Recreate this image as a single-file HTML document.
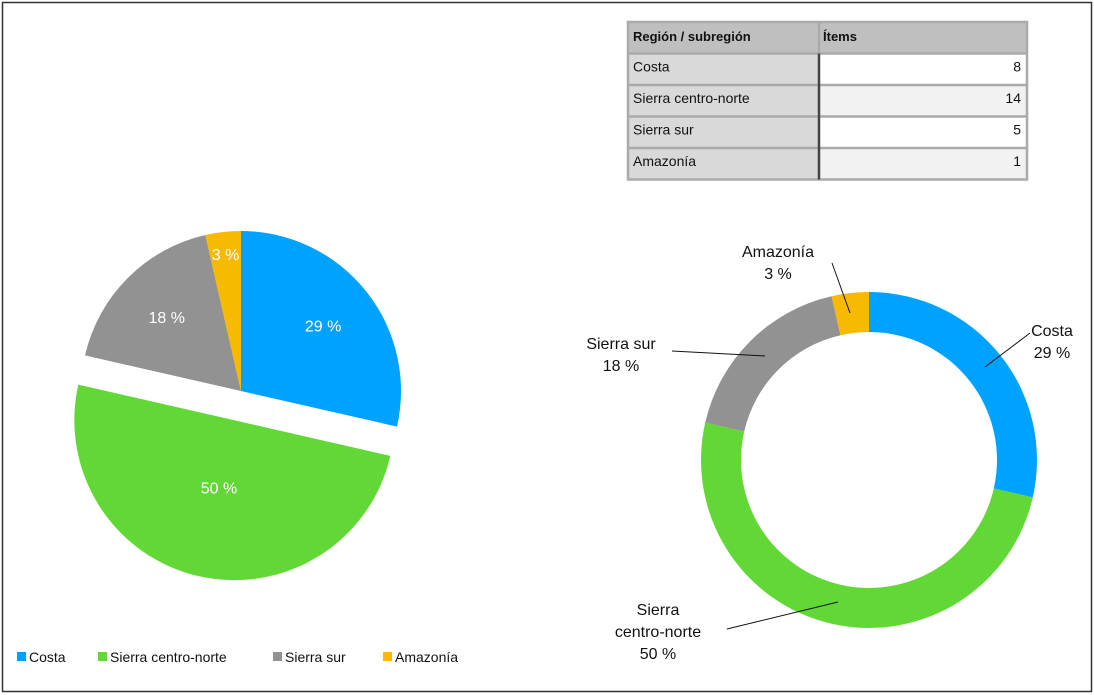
<!DOCTYPE html>
<html><head><meta charset="utf-8"><style>
body{margin:0;background:#fff;font-family:"Liberation Sans",sans-serif}
#wrap{position:relative;width:1094px;height:695px;overflow:hidden}
</style></head><body>
<div id="wrap">
<svg id="svg" width="1094" height="695" xmlns="http://www.w3.org/2000/svg">
<rect x="2.5" y="2.5" width="1089" height="689" fill="#fff" stroke="#333" stroke-width="1.5"/>
<g id="table"></g>
<g id="pie"></g>
<g id="donut"></g>
<g id="legend"></g>
</svg>
</div>
<script>
const categories=["Costa","Sierra centro-norte","Sierra sur","Amazonía"];
const values=[8,14,5,1];
const pctLabels=["29 %","50 %","18 %","3 %"];
const colors=["#00A2FF","#62D836","#929292","#F8BA00"];
const NS="http://www.w3.org/2000/svg";
function mk(tag,attrs,parent,text){const e=document.createElementNS(NS,tag);for(const k in attrs)e.setAttribute(k,attrs[k]);if(text!==undefined)e.textContent=text;parent.appendChild(e);return e;}
const total=values.reduce((a,b)=>a+b,0);
function pt(cx,cy,r,a){return [cx+r*Math.sin(a),cy-r*Math.cos(a)];}
function arcPath(cx,cy,r,ri,a0,a1){
  const large=(a1-a0)>Math.PI?1:0;
  const p0=pt(cx,cy,r,a0),p1=pt(cx,cy,r,a1);
  if(ri<=0)return `M${cx},${cy}L${p0[0]},${p0[1]}A${r},${r} 0 ${large} 1 ${p1[0]},${p1[1]}Z`;
  const q1=pt(cx,cy,ri,a1),q0=pt(cx,cy,ri,a0);
  return `M${p0[0]},${p0[1]}A${r},${r} 0 ${large} 1 ${p1[0]},${p1[1]}L${q1[0]},${q1[1]}A${ri},${ri} 0 ${large} 0 ${q0[0]},${q0[1]}Z`;
}
// table
const tg=document.getElementById('table');
const tx=628,ty=22,tw=399,c1=191,rh=31.5;
mk('rect',{x:tx,y:ty,width:tw,height:rh,fill:'#bfbfbf'},tg);
let h=mk('text',{x:tx+5,y:ty+19,'font-size':13,'font-weight':'bold',fill:'#111'},tg,"Región / subregión");

h=mk('text',{x:tx+c1+4,y:ty+19,'font-size':13,'font-weight':'bold',fill:'#111'},tg,"Ítems");

categories.forEach((c,i)=>{
  const y=ty+rh*(i+1);
  mk('rect',{x:tx,y:y,width:c1,height:rh,fill:'#d9d9d9'},tg);
  mk('rect',{x:tx+c1,y:y,width:tw-c1,height:rh,fill:i%2?'#f2f2f2':'#fff'},tg);
  mk('line',{x1:tx,x2:tx+tw,y1:y,y2:y,stroke:'#aaa','stroke-width':2.5},tg);
  const t=mk('text',{x:tx+5,y:y+18,'font-size':14,fill:'#111'},tg,c);
  
  const v=mk('text',{x:tx+tw-6,y:y+18,'font-size':14,fill:'#111','text-anchor':'end'},tg,values[i]);
  
});
mk('rect',{x:tx,y:ty,width:tw,height:rh*5,fill:'none',stroke:'#aaa','stroke-width':2.5},tg);
mk('line',{x1:tx+c1,x2:tx+c1,y1:ty,y2:ty+rh,stroke:'#aaa','stroke-width':2.5},tg);
mk('line',{x1:tx+c1,x2:tx+c1,y1:ty+rh,y2:ty+rh*5,stroke:'#444','stroke-width':2.5},tg);
// pie
const pg=document.getElementById('pie');
const pcx=241,pcy=391,pr=160;
const labelR=[105,69,105,138];
let a=0;
values.forEach((v,i)=>{
  const a0=a,a1=a+v/total*2*Math.PI;a=a1;
  const mid=(a0+a1)/2;
  const off=i===1?30:0;
  const cx=pcx+off*Math.sin(mid),cy=pcy-off*Math.cos(mid);
  const p=mk('path',{d:arcPath(cx,cy,pr,0,a0,a1),fill:colors[i]},pg);
  
  const lp=pt(cx,cy,labelR[i],mid);
  const t=mk('text',{x:lp[0],y:lp[1]+6,'font-size':16,fill:'#fff','text-anchor':'middle'},pg,pctLabels[i]);
  
});
// donut
const dg=document.getElementById('donut');
const dcx=869,dcy=460,dr=168,dri=128;
const dl=[[1052,336,"Costa",[985,367],[1030,333]],[658,615,"Sierra\ncentro-norte",[838,602],[727,629]],[621,349,"Sierra sur",[765,356],[672,351]],[778,257,"Amazonía",[850,313],[832,263]]];
a=0;
values.forEach((v,i)=>{
  const a0=a,a1=a+v/total*2*Math.PI;a=a1;
  const p=mk('path',{d:arcPath(dcx,dcy,dr,dri,a0,a1),fill:colors[i]},dg);
  
  const L=dl[i];
  const ln=mk('line',{x1:L[3][0],y1:L[3][1],x2:L[4][0],y2:L[4][1],stroke:'#111','stroke-width':1},dg);
  
  const lines=L[2].split("\n").concat([pctLabels[i]]);
  lines.forEach((s,j)=>{
    const t=mk('text',{x:L[0],y:L[1]+j*22,'font-size':16,fill:'#111','text-anchor':'middle'},dg,s);
    
  });
});
// legend
const lg=document.getElementById('legend');
const lx=[17,98,273,383];
categories.forEach((c,i)=>{
  const r=mk('rect',{x:lx[i],y:652,width:9,height:9,fill:colors[i]},lg);
  
  const t=mk('text',{x:lx[i]+12,y:662,'font-size':14,fill:'#111'},lg,c);
  
});
</script>
</body></html>
